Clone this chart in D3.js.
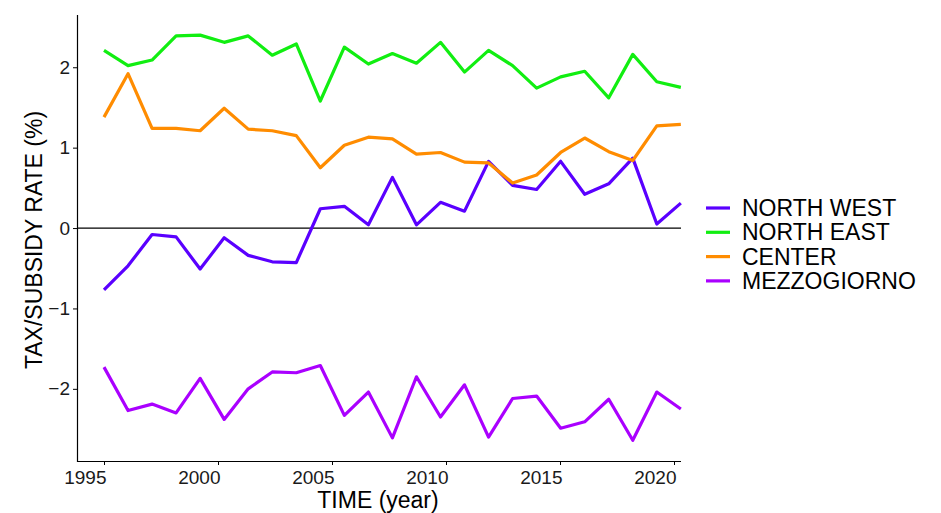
<!DOCTYPE html>
<html>
<head>
<style>
  body { margin: 0; background: #fff; }
  text { font-family: "Liberation Sans", Arial, sans-serif; }
</style>
</head>
<body>
<svg width="941" height="513"></svg>
<script src="https://d3js.org/d3.v7.min.js"></script>
<script>
const regions = ["NORTH WEST", "NORTH EAST", "CENTER", "MEZZOGIORNO"];
const colors = ["#5a00ff", "#11ee11", "#ff8c00", "#aa00ff"];
const nPoints = 25;
const northWest = [-0.77,-0.47,-0.08,-0.11,-0.51,-0.12,-0.34,-0.42,-0.43,0.24,0.27,0.04,0.63,0.04,0.32,0.21,0.83,0.53,0.48,0.83,0.42,0.55,0.87,0.05,0.31];
const northEast = [2.21,2.02,2.09,2.39,2.40,2.31,2.39,2.15,2.29,1.58,2.25,2.04,2.17,2.05,2.31,1.94,2.21,2.02,1.74,1.88,1.95,1.62,2.16,1.82,1.75];
const center = [1.38,1.92,1.24,1.24,1.21,1.49,1.23,1.21,1.15,0.75,1.03,1.13,1.11,0.92,0.94,0.82,0.81,0.56,0.66,0.94,1.12,0.95,0.84,1.27,1.29];
const mezzogiorno = [-1.73,-2.27,-2.19,-2.30,-1.87,-2.38,-2.00,-1.79,-1.80,-1.71,-2.33,-2.04,-2.61,-1.85,-2.35,-1.95,-2.60,-2.12,-2.09,-2.49,-2.41,-2.13,-2.64,-2.04,-2.25];
const xTicks = [1995, 2000, 2005, 2010, 2015, 2020];
const yTicks = [-2, -1, 0, 1, 2];

const series = [northWest, northEast, center, mezzogiorno];
const years = d3.range(nPoints).map(i => 1995 + i * 25.3 / (nPoints - 1));

let svg = d3.select("svg");
let x = d3.scaleLinear().domain([1995, 2020]).range([104, 674]);
let y = d3.scaleLinear().domain([-2.91, 2.65]).range([462, 15]);

// axes
let xAxis = svg.append("g").attr("transform", "translate(0,461)")
  .call(d3.axisBottom(x).tickValues(xTicks).tickFormat(d3.format("d")).tickSize(4).tickSizeOuter(0));
xAxis.select(".domain").attr("d", "M77,0.5H681").attr("stroke", "#000").attr("stroke-width", 1.2);
xAxis.selectAll("text").style("font-size", "19px").attr("fill", "#1a1a1a")
  .attr("text-anchor", "end").attr("dx", 2).attr("y", 0).attr("dy", 23);

let yAxis = svg.append("g").attr("transform", "translate(77,0)")
  .call(d3.axisLeft(y).tickValues(yTicks).tickFormat(d => d < 0 ? "\u2212" + Math.abs(d) : d).tickSize(4).tickSizeOuter(0));
yAxis.select(".domain").attr("d", "M0.5,15V462").attr("stroke", "#000").attr("stroke-width", 1.2);
yAxis.selectAll("text").style("font-size", "19px").attr("fill", "#1a1a1a");

svg.append("line").attr("x1", 77).attr("x2", 681).attr("y1", y(0)).attr("y2", y(0))
  .attr("stroke", "#000").attr("stroke-width", 1.3);

let line = d3.line().x((d, i) => x(years[i])).y(d => y(d));
series.forEach((s, k) => {
  svg.append("path").attr("d", line(s)).attr("fill", "none")
    .attr("stroke", colors[k]).attr("stroke-width", 3.2).attr("stroke-linejoin", "round");
});

// titles
svg.append("text").attr("x", 378).attr("y", 508).attr("text-anchor", "middle")
  .attr("font-size", 23).text("TIME (year)");
svg.append("text").attr("transform", "translate(42,240) rotate(-90)").attr("text-anchor", "middle")
  .attr("font-size", 23).text("TAX/SUBSIDY RATE (%)");

// legend
let leg = svg.append("g").attr("transform", "translate(706,208)");
regions.forEach((r, k) => {
  let g = leg.append("g").attr("transform", `translate(0,${k * 24.3})`);
  g.append("line").attr("x1", 0).attr("x2", 24).attr("stroke", colors[k]).attr("stroke-width", 3.2);
  g.append("text").attr("x", 36).attr("y", 8).attr("font-size", 23).text(r);
});
</script>
</body>
</html>
